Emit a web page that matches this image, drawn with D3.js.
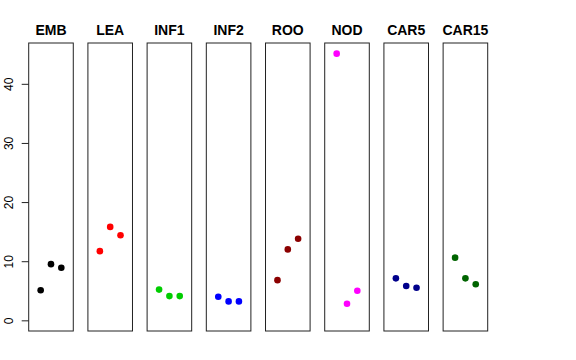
<!DOCTYPE html>
<html>
<head>
<meta charset="utf-8">
<script src="https://cdn.jsdelivr.net/npm/d3@7"></script>
<style>
  body { margin: 0; background: #fff; }
  text { font-family: "Liberation Sans", Arial, sans-serif; }
</style>
</head>
<body>
<div id="chart"></div>
<script>
// Chart data
var tissues = ["EMB", "LEA", "INF1", "INF2", "ROO", "NOD", "CAR5", "CAR15"];
var colors = ["#000000", "#ff0000", "#00cd00", "#0000ff", "#8b0000", "#ff00ff", "#00008b", "#006400"];
var rep1 = [5.1, 11.7, 5.2, 4.0, 6.8, 45.1, 7.1, 10.6];
var rep2 = [9.5, 15.8, 4.1, 3.2, 12.0, 2.8, 5.8, 7.1];
var rep3 = [8.9, 14.4, 4.1, 3.2, 13.8, 5.0, 5.5, 6.1];
var yTicks = [0, 10, 20, 30, 40];

var svgWidth = 576;
var svgHeight = 360;

var margin = { top: 43, bottom: 29, left: 28.7, right: 88.3 };

var svg = d3.select("#chart")
  .append("svg")
  .attr("width", svgWidth)
  .attr("height", svgHeight);

// build rows: one per panel
var panels = tissues.map(function(t, i) {
  return { name: t, color: colors[i], values: [rep1[i], rep2[i], rep3[i]] };
});

var yMax = d3.max(panels, d => d3.max(d.values));
var yPad = yMax * 0.04;

// panel positions
var xBand = d3.scaleBand()
  .domain(tissues)
  .range([margin.left, svgWidth - margin.right])
  .paddingInner(0.247)
  .paddingOuter(0);

var yScale = d3.scaleLinear()
  .domain([0 - yPad, yMax + yPad])
  .range([svgHeight - margin.bottom, margin.top]);

var panelGroups = svg.selectAll(".panel")
  .data(panels)
  .enter()
  .append("g")
  .attr("class", "panel")
  .attr("transform", d => `translate(${xBand(d.name)}, 0)`);

var w = xBand.bandwidth();
var xInner = d3.scaleLinear()
  .domain([-0.16, 4.16])
  .range([0, w]);

// frame
panelGroups.append("rect")
  .attr("x", 0)
  .attr("y", margin.top)
  .attr("width", w)
  .attr("height", svgHeight - margin.bottom - margin.top)
  .attr("fill", "none")
  .attr("stroke", "#222")
  .attr("stroke-width", 1);

// titles
panelGroups.append("text")
  .attr("x", w / 2)
  .attr("y", 34.5)
  .attr("text-anchor", "middle")
  .attr("font-size", "14px")
  .attr("font-weight", "bold")
  .text(d => d.name);

// points
panelGroups.selectAll("circle")
  .data(d => d.values.map(v => ({ v: v, color: d.color })))
  .enter()
  .append("circle")
  .attr("cx", (d, i) => xInner(i + 1))
  .attr("cy", d => yScale(d.v))
  .attr("r", 3.3)
  .attr("fill", d => d.color);

// y axis on first panel only
var leftAxis = d3.axisLeft(yScale)
  .tickValues(yTicks)
  .tickSize(7)
  .tickPadding(0)
  .tickFormat(d3.format("d"));

var yAxis = svg.append("g")
  .attr("transform", `translate(${margin.left}, 0)`)
  .call(leftAxis);

yAxis.select(".domain").remove();
yAxis.selectAll("line").attr("stroke", "#222");
yAxis.selectAll("text")
  .attr("font-size", "12px")
  .attr("fill", "#000")
  .attr("text-anchor", "middle")
  .attr("dy", 0)
  .attr("x", 0)
  .attr("transform", "translate(-16, 0) rotate(-90)");
</script>
</body>
</html>
